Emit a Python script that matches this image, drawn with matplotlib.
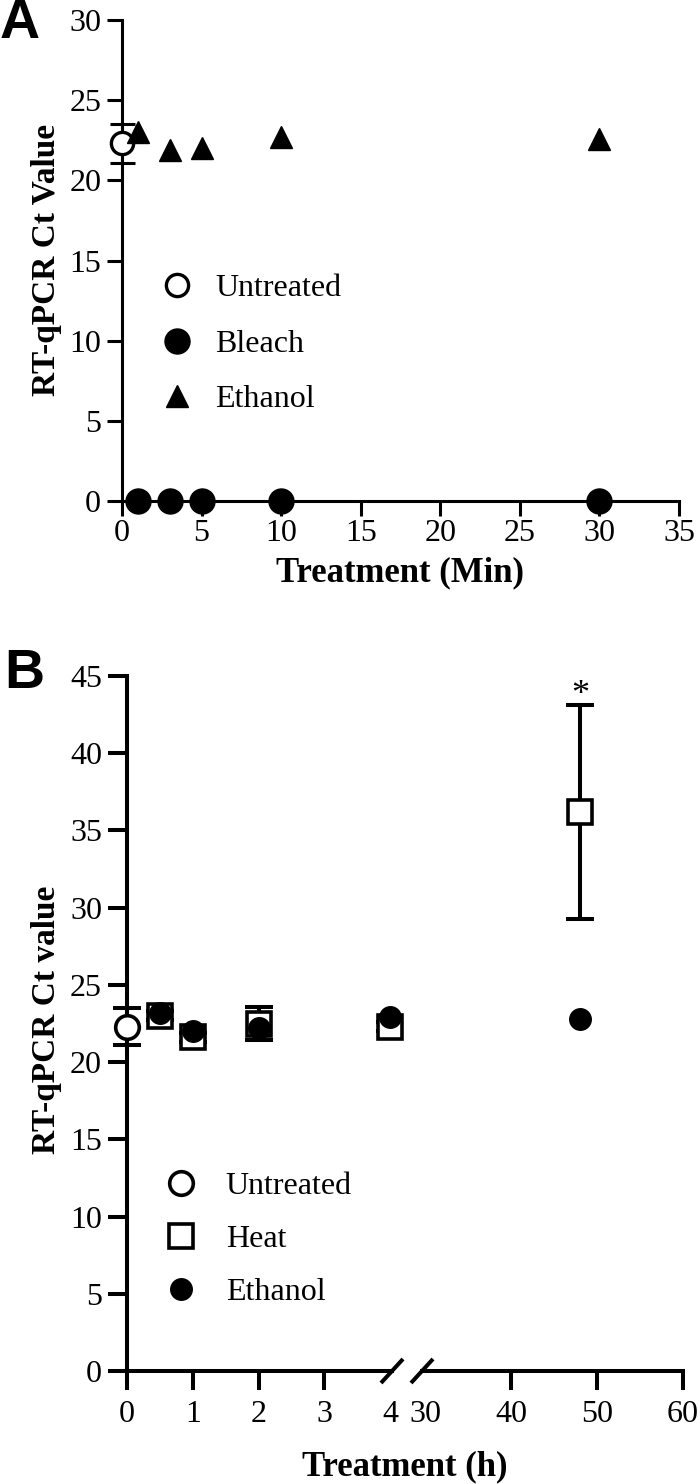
import matplotlib
matplotlib.use("Agg")
import matplotlib.pyplot as plt

plt.rcParams['font.family'] = ['Liberation Serif', 'DejaVu Serif']

# ---- panel A data (minutes) ----
untreated_x = [0]
untreated_y = [22.3]
untreated_err = [1.2]
bleach_min = [1, 3, 5, 10, 30]
bleach_ct = [0, 0, 0, 0, 0]
ethanol_min = [1, 3, 5, 10, 30]
ethanol_ct = [23.0, 21.9, 22.0, 22.7, 22.6]

# ---- panel B data (hours) ----
heat_h = [0.5, 1, 2, 4, 48]
heat_ct = [23.0, 21.6, 22.5, 22.3, 36.2]
heat_err = [0.3, 0.3, 1.1, 0.3, 6.95]
eth_h = [0.5, 1, 2, 4, 48]
eth_ct = [23.2, 22.0, 22.2, 22.9, 22.8]

W, H = 700, 1484
fig = plt.figure(figsize=(W / 100, H / 100), dpi=100)


def box(x0, y_bottom, x1, y_top):
    return [x0 / W, 1 - y_bottom / H, (x1 - x0) / W, (y_bottom - y_top) / H]


def style_axis(ax, lw, tl):
    for s in ['top', 'right']:
        ax.spines[s].set_visible(False)
    for s in ['left', 'bottom']:
        ax.spines[s].set_linewidth(lw)
    ax.tick_params(direction='out', length=tl, width=lw, labelsize=23, pad=4)


# ================= Panel A =================
axA = fig.add_axes(box(122, 501, 679, 20))
style_axis(axA, 2.2, 11)
axA.set_xlim(0, 35)
axA.set_ylim(0, 30)
axA.set_xticks(range(0, 36, 5))
axA.set_yticks(range(0, 31, 5))
axA.tick_params(axis='x', pad=2)

axA.errorbar(untreated_x, untreated_y, yerr=untreated_err, fmt='none', ecolor='black',
             elinewidth=2.2, capsize=9, capthick=2.2, clip_on=False, zorder=3)
axA.plot(untreated_x, untreated_y, 'o', ms=16, mfc='white', mec='black', mew=2.4,
         clip_on=False, zorder=4, label='Untreated')
axA.plot(bleach_min, bleach_ct, 'o', ms=18, color='black', clip_on=False, zorder=4, label='Bleach')
axA.plot(ethanol_min, ethanol_ct, '^', ms=16, color='black', clip_on=False, zorder=4, label='Ethanol')

axA.legend(loc='upper left', bbox_to_anchor=(161 / W, 1 - 274 / H), bbox_transform=fig.transFigure,
           frameon=False, fontsize=23, handlelength=1.0, handletextpad=0.7, borderpad=0,
           borderaxespad=0, labelspacing=0.82, numpoints=1)

fig.text(400 / W, 1 - 573 / H, 'Treatment (Min)', fontsize=25, fontweight='bold',
         ha='center', va='center')
axA.set_ylabel('RT-qPCR Ct Value', fontsize=24, fontweight='bold')
axA.yaxis.set_label_coords(62 / W, 1 - 260 / H, transform=fig.transFigure)
fig.text(0, 1 - 38 / H, 'A', fontsize=40, fontweight='bold', family='Liberation Sans',
         va='baseline', ha='left')

# ================= Panel B (broken x-axis) =================
axB1 = fig.add_axes(box(127, 1371, 392, 676))
axB2 = fig.add_axes(box(422, 1371, 683, 676), sharey=axB1)
for ax in (axB1, axB2):
    style_axis(ax, 2.9, 14)
    ax.tick_params(axis='x', pad=7)
axB2.spines['left'].set_visible(False)
axB2.tick_params(axis='y', left=False, labelleft=False)

axB1.set_ylim(0, 45)
axB1.set_yticks(range(0, 46, 5))
axB1.set_xlim(0, 4.03)
axB1.set_xticks([0, 1, 2, 3, 4])
axB1.xaxis.get_major_ticks()[-1].tick1line.set_visible(False)
axB2.set_xlim(29.6, 60)
axB2.set_xticks([30, 40, 50, 60])
axB2.xaxis.get_major_ticks()[0].tick1line.set_visible(False)

for ax in (axB1, axB2):
    ax.errorbar(heat_h, heat_ct, yerr=heat_err, fmt='none', ecolor='black',
                elinewidth=2.9, capsize=10, capthick=2.9, zorder=2)
    ax.plot(heat_h, heat_ct, 's', ms=17, mfc='white', mec='black', mew=2.6, zorder=3,
            label='Heat', clip_on=(ax is axB2))
    ax.plot(eth_h, eth_ct, 'o', ms=15.5, color='black', zorder=4, label='Ethanol',
            clip_on=(ax is axB2))

axB1.errorbar(untreated_x, untreated_y, yerr=untreated_err, fmt='none', ecolor='black',
              elinewidth=2.9, capsize=10, capthick=2.9, clip_on=False, zorder=3)
axB1.plot(untreated_x, untreated_y, 'o', ms=17, mfc='white', mec='black', mew=2.6,
          clip_on=False, zorder=4, label='Untreated')

# significance mark above the 48 h heat point
axB2.annotate('*', xy=(heat_h[-1], heat_ct[-1] + heat_err[-1]), xytext=(0, -5),
              textcoords='offset points', ha='center', va='bottom', fontsize=26)

# break marks
for ax, xa in ((axB1, 1.0), (axB2, 0.0)):
    bw = ax.get_position().width * W
    bh = ax.get_position().height * H
    ax.plot([xa - 11 / bw, xa + 11 / bw], [-12 / bh, 12 / bh], transform=ax.transAxes,
            color='black', lw=2.9, clip_on=False, solid_capstyle='butt')

handles, labels = axB1.get_legend_handles_labels()
order = [labels.index('Untreated'), labels.index('Heat'), labels.index('Ethanol')]
axB1.legend([handles[i] for i in order], [labels[i] for i in order],
            loc='upper left', bbox_to_anchor=(165 / W, 1 - 1172 / H), bbox_transform=fig.transFigure,
            frameon=False, fontsize=23, handlelength=1.0, handletextpad=0.9, borderpad=0,
            borderaxespad=0, labelspacing=0.74, numpoints=1)

fig.text(405 / W, 1 - 1467 / H, 'Treatment (h)', fontsize=25, fontweight='bold',
         ha='center', va='center')
axB1.set_ylabel('RT-qPCR Ct value', fontsize=24, fontweight='bold')
axB1.yaxis.set_label_coords(62 / W, 1 - 1020 / H, transform=fig.transFigure)
fig.text(4 / W, 1 - 688 / H, 'B', fontsize=40, fontweight='bold', family='Liberation Sans',
         va='baseline', ha='left')

fig.savefig('out.png', dpi=100)
